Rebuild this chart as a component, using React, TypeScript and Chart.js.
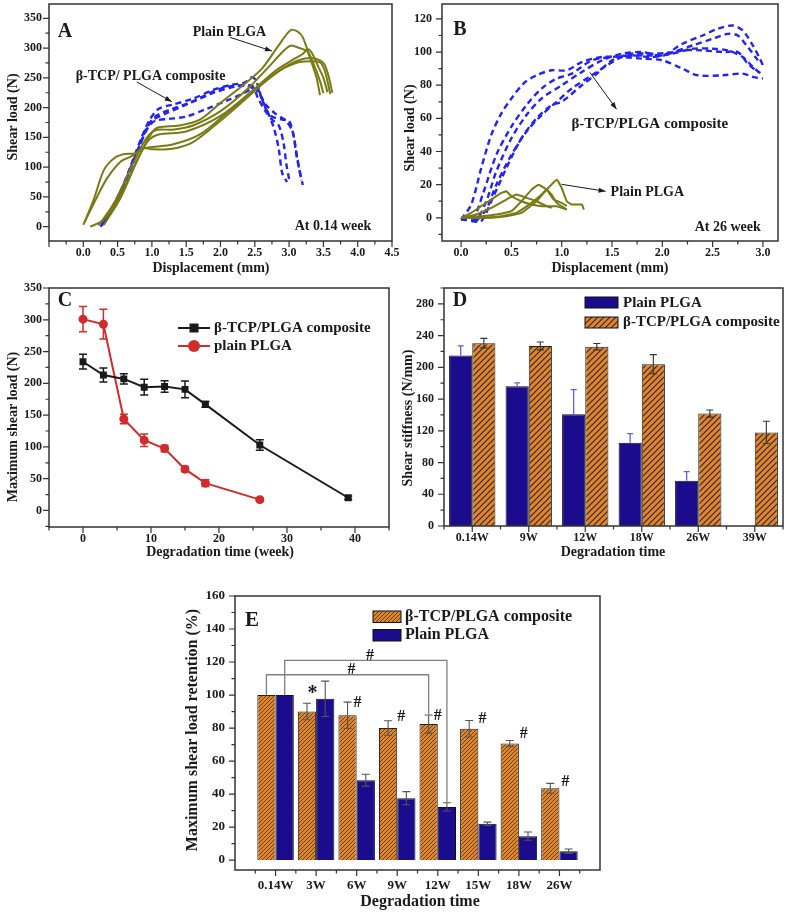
import React, { useEffect, useRef } from 'react';
import { Chart, registerables } from 'chart.js';
Chart.register(...registerables);

const SERIF = '"Liberation Serif", "Times New Roman", Times, serif';
const INK = '#1a1a1a';
const FRAME = '#333333';
const OLIVE = '#7a7a14';
const BLUE_DASH = '#2424ee';
const NAVY = '#1a0c8c';
const ORANGE = '#df862c';
const RED = '#d12b2b';

type Pt = [number, number];

// ---------- Panel A (0.14 week) ----------
const aXTicks = [0, 0.5, 1, 1.5, 2, 2.5, 3, 3.5, 4, 4.5];
const aYTicks = [0, 50, 100, 150, 200, 250, 300, 350];
const aPlain1: Pt[] = [[0.1, 0], [0.3, 12], [0.55, 55], [0.8, 115], [1.0, 158], [1.1, 167], [1.4, 170], [1.7, 180], [2.0, 208], [2.3, 235], [2.6, 265], [2.85, 305], [3.02, 330], [3.12, 328], [3.2, 318], [3.3, 285], [3.4, 250], [3.45, 221]];
const aPlain2: Pt[] = [[0.22, 2], [0.45, 40], [0.7, 100], [0.9, 145], [1.05, 162], [1.3, 163], [1.6, 170], [2.0, 194], [2.4, 232], [2.7, 268], [2.9, 293], [3.02, 304], [3.15, 300], [3.27, 294], [3.35, 275], [3.45, 245], [3.5, 224]];
const aPlain3: Pt[] = [[0.3, 3], [0.55, 50], [0.8, 115], [0.95, 145], [1.1, 155], [1.5, 160], [2.0, 186], [2.5, 232], [2.8, 262], [3.05, 280], [3.2, 290], [3.27, 298], [3.33, 292], [3.42, 270], [3.5, 250], [3.56, 226]];
const aPlain4: Pt[] = [[0.0, 3], [0.15, 45], [0.3, 95], [0.45, 115], [0.6, 122], [0.75, 123], [0.87, 132], [1.0, 130], [1.3, 131], [1.6, 142], [2.0, 178], [2.4, 218], [2.8, 258], [3.1, 275], [3.3, 278], [3.45, 276], [3.52, 262], [3.6, 223]];
const aPlain5: Pt[] = [[0.02, 8], [0.2, 50], [0.35, 82], [0.55, 110], [0.7, 118], [0.87, 131], [1.0, 134], [1.3, 138], [1.7, 155], [2.1, 192], [2.5, 230], [2.9, 265], [3.15, 280], [3.35, 283], [3.5, 275], [3.57, 255], [3.63, 225]];
const aComp1: Pt[] = [[0.25, 0], [0.45, 35], [0.65, 90], [0.85, 150], [0.97, 180], [1.1, 198], [1.3, 205], [1.6, 215], [1.9, 230], [2.15, 238], [2.35, 242], [2.46, 251], [2.52, 245], [2.6, 215], [2.68, 195], [2.78, 165], [2.85, 130], [2.9, 90], [2.97, 75]];
const aComp2: Pt[] = [[0.27, 2], [0.5, 50], [0.72, 105], [0.9, 160], [1.0, 178], [1.2, 190], [1.5, 205], [1.8, 222], [2.0, 232], [2.2, 237], [2.35, 236], [2.48, 232], [2.55, 215], [2.65, 195], [2.75, 180], [2.85, 170], [2.92, 140], [2.96, 105], [3.0, 80]];
const aComp3: Pt[] = [[0.3, 5], [0.55, 60], [0.78, 125], [0.95, 168], [1.05, 178], [1.25, 181], [1.5, 185], [1.8, 198], [2.1, 212], [2.3, 222], [2.48, 232], [2.56, 225], [2.66, 205], [2.8, 190], [2.95, 178], [3.05, 160], [3.1, 125], [3.15, 95], [3.2, 70]];
const aComp4: Pt[] = [[0.28, 3], [0.5, 45], [0.75, 115], [0.92, 165], [1.05, 185], [1.3, 198], [1.6, 210], [1.9, 225], [2.2, 235], [2.4, 238], [2.55, 230], [2.65, 200], [2.75, 185], [2.9, 180], [3.0, 178], [3.07, 150], [3.12, 115], [3.18, 78]];

// ---------- Panel B (26 week) ----------
const bXTicks = [0, 0.5, 1, 1.5, 2, 2.5, 3];
const bYTicks = [0, 20, 40, 60, 80, 100, 120];
const bComp1: Pt[] = [[0, -1], [0.1, 8], [0.2, 30], [0.3, 50], [0.4, 63], [0.5, 72], [0.62, 81], [0.75, 86], [0.9, 89], [1.05, 89], [1.2, 94], [1.4, 97], [1.6, 97], [1.8, 96], [2.0, 95], [2.2, 90], [2.35, 86], [2.6, 86], [2.8, 87], [2.9, 85], [3.0, 84]];
const bComp2: Pt[] = [[0, -1], [0.12, 0], [0.22, 15], [0.35, 38], [0.5, 55], [0.65, 68], [0.8, 78], [0.95, 84], [1.1, 87], [1.3, 95], [1.5, 97], [1.7, 98], [1.9, 97], [2.1, 99], [2.3, 102], [2.5, 102], [2.65, 101], [2.8, 97], [2.9, 91], [3.0, 86]];
const bComp3: Pt[] = [[0, -1], [0.15, -1], [0.25, 10], [0.35, 28], [0.5, 48], [0.65, 62], [0.8, 72], [1.0, 80], [1.2, 88], [1.4, 95], [1.6, 99], [1.8, 100], [2.0, 98], [2.2, 105], [2.4, 110], [2.55, 114], [2.7, 116], [2.8, 113], [2.9, 104], [2.97, 96], [3.0, 92]];
const bComp4: Pt[] = [[0.1, -2], [0.2, -2], [0.3, 10], [0.45, 30], [0.6, 48], [0.75, 60], [0.9, 68], [1.0, 70], [1.2, 80], [1.35, 87], [1.5, 95], [1.7, 99], [1.9, 99], [2.1, 100], [2.3, 104], [2.5, 108], [2.65, 111], [2.75, 110], [2.85, 103], [2.95, 95]];
const bComp5: Pt[] = [[0.15, -2], [0.25, 5], [0.35, 20], [0.5, 38], [0.65, 52], [0.8, 62], [0.95, 70], [1.1, 78], [1.3, 86], [1.45, 92], [1.6, 97], [1.8, 98], [2.0, 98], [2.2, 101], [2.4, 101], [2.6, 100], [2.75, 100], [2.85, 93], [2.95, 88]];
const bPlain1: Pt[] = [[0, 0], [0.1, 3], [0.2, 7], [0.3, 11], [0.4, 15], [0.45, 16], [0.5, 13], [0.6, 10], [0.7, 8], [0.8, 7], [0.95, 7], [1.05, 5]];
const bPlain2: Pt[] = [[0, 0], [0.15, 2], [0.3, 6], [0.45, 11], [0.55, 14], [0.65, 12], [0.75, 10], [0.85, 7], [0.9, 6]];
const bPlain3: Pt[] = [[0, 0], [0.2, 1], [0.35, 2], [0.5, 4], [0.6, 10], [0.7, 17], [0.77, 20], [0.85, 17], [0.92, 11], [1.0, 9], [1.05, 7]];
const bPlain4: Pt[] = [[0.05, 0], [0.2, 0], [0.4, 1], [0.55, 3], [0.7, 9], [0.8, 14], [0.85, 17], [0.9, 14], [0.95, 9], [1.05, 5]];
const bPlain5: Pt[] = [[0.05, 0], [0.25, 0], [0.45, 1], [0.6, 3], [0.75, 10], [0.85, 17], [0.95, 23], [1.0, 18], [1.05, 10], [1.1, 8], [1.2, 8], [1.22, 5]];

// ---------- Panel C ----------
const cXTicks = [0, 10, 20, 30, 40];
const cYTicks = [0, 50, 100, 150, 200, 250, 300, 350];
const cCompWeeks = [0, 3, 6, 9, 12, 15, 18, 26, 39];
const cComp = [234, 213, 207, 194, 195, 190.5, 167, 103, 20];
const cCompErr = [11.6, 11, 8, 12.5, 9, 13, 4.5, 8.4, 2.6];
const cPlainWeeks = [0, 3, 6, 9, 12, 15, 18, 26];
const cPlain = [301, 293, 144, 110.5, 97.5, 65, 43, 17];
const cPlainErr = [19.7, 23.4, 7.4, 10, 5.3, 4, 5.3, 3];

// ---------- Panel D ----------
const dLabels = ['0.14W', '9W', '12W', '18W', '26W', '39W'];
const dYTicks = [0, 40, 80, 120, 160, 200, 240, 280];
const dPlain = [215, 176, 141, 105, 57, null];
const dPlainErr = [12, 4.5, 31, 11.5, 11.6, null];
const dComp = [230.5, 227, 226, 204, 141.7, 118];
const dCompErr = [6, 5, 4, 12, 4.5, 14];

// ---------- Panel E ----------
const eLabels = ['', '0.14W', '3W', '6W', '9W', '12W', '15W', '18W', '26W', ''];
const eYTicks = [0, 20, 40, 60, 80, 100, 120, 140, 160];
const eComp = [null, 100, 90, 87.7, 80, 82.4, 79.6, 70.7, 43.5, null];
const eCompErr = [null, null, 5, 8, 4.4, 5.5, 5, 1.8, 3, null];
const ePlain = [null, 100, 97.7, 48.4, 37.5, 32.2, 22, 14.5, 5.4, null];
const ePlainErr = [null, null, 10.7, 3.6, 4, 2.5, 1, 2.5, 1.3, null];

// ---------- helpers ----------
const font = (size: number) => `bold ${size}px ${SERIF}`;
const range = (a: number, b: number, s: number) => {
  const out: number[] = [];
  for (let v = a; v <= b + 1e-9; v += s) out.push(Math.round(v * 1000) / 1000);
  return out;
};

function hatch(bg: string, line: string, size: number, lw: number): CanvasPattern {
  const c = document.createElement('canvas');
  c.width = size; c.height = size;
  const x = c.getContext('2d')!;
  x.fillStyle = bg; x.fillRect(0, 0, size, size);
  x.strokeStyle = line; x.lineWidth = lw;
  x.beginPath();
  x.moveTo(-1, size + 1); x.lineTo(size + 1, -1);
  x.moveTo(-size / 2 - 1, size / 2 + 1); x.lineTo(size / 2 + 1, -size / 2 - 1);
  x.moveTo(size / 2 - 1, size * 1.5 + 1); x.lineTo(size * 1.5 + 1, size / 2 - 1);
  x.stroke();
  return x.createPattern(c, 'repeat')!;
}

function linAxis(min: number, max: number, ticks: number[], fit: { w?: number; h?: number }, pad: number, size: number, fmt?: (v: number) => string): any {
  const t: any = { font: { family: SERIF, size, weight: 'bold' }, color: INK, padding: pad, autoSkip: false, maxRotation: 0 };
  if (fmt) t.callback = (v: any) => fmt(Number(v));
  return {
    type: 'linear', min, max,
    grid: { display: false, drawTicks: false },
    border: { display: false },
    ticks: t,
    afterBuildTicks: (s: any) => { s.ticks = ticks.map((v) => ({ value: v })); },
    afterFit: (s: any) => {
      if (fit.w != null) s.width = fit.w;
      if (fit.h != null) s.height = fit.h;
      s.paddingLeft = 0; s.paddingRight = 0; s.paddingTop = 0; s.paddingBottom = 0;
    },
  };
}

function catAxis(offset: boolean, h: number, pad: number, size: number): any {
  return {
    type: 'category', offset,
    grid: { display: false, drawTicks: false, offset },
    border: { display: false },
    ticks: { font: { family: SERIF, size, weight: 'bold' }, color: INK, padding: pad, autoSkip: false, maxRotation: 0 },
    afterFit: (s: any) => { s.height = h; s.paddingLeft = 0; s.paddingRight = 0; },
  };
}

interface Txt { t: string; x: number; y: number; size: number; align?: CanvasTextAlign; rot?: number; px?: boolean; color?: string }
interface Decor {
  xMajor: number[]; xMinor: number[]; yMajor: number[]; yMinor: number[];
  errBehind?: boolean;
  texts?: Txt[];
  arrows?: [Pt, Pt][];
  paths?: { pts: Pt[]; color: string; width: number }[];
  legend?: (ctx: CanvasRenderingContext2D) => void;
}

function drawErrors(chart: any) {
  const ctx: CanvasRenderingContext2D = chart.ctx;
  const ys = chart.scales.y;
  ctx.save();
  chart.data.datasets.forEach((ds: any, i: number) => {
    if (!ds.errors) return;
    const meta = chart.getDatasetMeta(i);
    ctx.strokeStyle = ds.errColor || INK;
    ctx.lineWidth = ds.errWidth ?? 1.3;
    const cap = ds.errCap ?? 4;
    meta.data.forEach((el: any, j: number) => {
      const raw = ds.data[j];
      const v = raw == null ? null : typeof raw === 'number' ? raw : raw.y;
      const e = ds.errors[j];
      if (v == null || e == null) return;
      const x = el.x;
      const y1 = ys.getPixelForValue(v + e);
      const y0 = ds.errUp ? ys.getPixelForValue(v) : ys.getPixelForValue(v - e);
      ctx.beginPath();
      ctx.moveTo(x, y0); ctx.lineTo(x, y1);
      ctx.moveTo(x - cap, y1); ctx.lineTo(x + cap, y1);
      if (!ds.errUp) { ctx.moveTo(x - cap, y0); ctx.lineTo(x + cap, y0); }
      ctx.stroke();
    });
  });
  ctx.restore();
}

function decorPlugin(d: Decor) {
  return {
    id: 'decor',
    beforeDatasetsDraw(chart: any) {
      if (d.errBehind) drawErrors(chart);
    },
    afterDatasetsDraw(chart: any) {
      if (!d.errBehind) drawErrors(chart);
      const ctx: CanvasRenderingContext2D = chart.ctx;
      const xs = chart.scales.x, ys = chart.scales.y;
      const { left, right, top, bottom } = chart.chartArea;
      const X = (v: number) => xs.getPixelForValue(v);
      const Y = (v: number) => ys.getPixelForValue(v);
      ctx.save();
      (d.paths || []).forEach((p) => {
        ctx.strokeStyle = p.color; ctx.lineWidth = p.width;
        ctx.beginPath();
        p.pts.forEach(([a, b], k) => (k ? ctx.lineTo(X(a), Y(b)) : ctx.moveTo(X(a), Y(b))));
        ctx.stroke();
      });
      ctx.strokeStyle = FRAME; ctx.lineWidth = 1.5;
      ctx.strokeRect(left, top, right - left, bottom - top);
      ctx.lineWidth = 1.2;
      ctx.beginPath();
      d.xMajor.forEach((v) => { const x = X(v); ctx.moveTo(x, bottom); ctx.lineTo(x, bottom + 6); });
      d.xMinor.forEach((v) => { const x = X(v); ctx.moveTo(x, bottom); ctx.lineTo(x, bottom + 3.5); });
      d.yMajor.forEach((v) => { const y = Y(v); ctx.moveTo(left, y); ctx.lineTo(left - 6, y); });
      d.yMinor.forEach((v) => { const y = Y(v); ctx.moveTo(left, y); ctx.lineTo(left - 3.5, y); });
      ctx.stroke();
      ctx.strokeStyle = INK; ctx.fillStyle = INK; ctx.lineWidth = 1;
      (d.arrows || []).forEach(([p1, p2]) => {
        const x1 = X(p1[0]), y1 = Y(p1[1]), x2 = X(p2[0]), y2 = Y(p2[1]);
        const ang = Math.atan2(y2 - y1, x2 - x1);
        ctx.beginPath(); ctx.moveTo(x1, y1); ctx.lineTo(x2, y2); ctx.stroke();
        ctx.beginPath();
        ctx.moveTo(x2, y2);
        ctx.lineTo(x2 - 7 * Math.cos(ang) + 2.5 * Math.sin(ang), y2 - 7 * Math.sin(ang) - 2.5 * Math.cos(ang));
        ctx.lineTo(x2 - 7 * Math.cos(ang) - 2.5 * Math.sin(ang), y2 - 7 * Math.sin(ang) + 2.5 * Math.cos(ang));
        ctx.closePath(); ctx.fill();
      });
      (d.texts || []).forEach((t) => {
        const x = t.px ? t.x : X(t.x);
        const y = t.px ? t.y : Y(t.y);
        ctx.save();
        ctx.font = font(t.size);
        ctx.fillStyle = t.color || INK;
        ctx.textAlign = t.align || 'center';
        ctx.textBaseline = 'middle';
        ctx.translate(x, y);
        if (t.rot) ctx.rotate(t.rot);
        ctx.fillText(t.t, 0, 0);
        ctx.restore();
      });
      if (d.legend) d.legend(ctx);
      ctx.restore();
    },
  };
}

const baseOpts = (padding: any) => ({
  responsive: false,
  animation: false as const,
  events: [] as any[],
  layout: { padding },
  plugins: { legend: { display: false }, tooltip: { enabled: false } },
});

const toXY = (pts: Pt[]) => pts.map(([x, y]) => ({ x, y }));
const oliveLine = (pts: Pt[], tension = 0.3) => ({ data: toXY(pts), borderColor: OLIVE, borderWidth: 2, pointRadius: 0, tension, fill: false });
const blueDash = (pts: Pt[]) => ({ data: toXY(pts), borderColor: BLUE_DASH, borderWidth: 2.4, borderDash: [6, 4], pointRadius: 0, tension: 0.3, fill: false });
const ROT = -Math.PI / 2;

function buildA(c: HTMLCanvasElement) {
  return new Chart(c, {
    type: 'line',
    data: { datasets: [...[aPlain1, aPlain2, aPlain3, aPlain4, aPlain5].map((p) => oliveLine(p)), ...[aComp1, aComp2, aComp3, aComp4].map(blueDash)] as any },
    options: {
      ...baseOpts({ left: 0, top: 4, right: 11, bottom: 0 }),
      scales: {
        x: linAxis(-0.5, 4.5, aXTicks, { h: 39 }, 5, 12, (v) => v.toFixed(1)),
        y: linAxis(-24, 374, aYTicks, { w: 49 }, 7, 12),
      },
    } as any,
    plugins: [decorPlugin({
      xMajor: range(-0.5, 4.5, 0.5), xMinor: range(-0.25, 4.25, 0.5), yMajor: aYTicks, yMinor: range(-25, 375, 50).filter((v) => v > -24 && v < 374),
      texts: [
        { t: 'A', x: 65, y: 32, size: 20, px: true },
        { t: 'Plain PLGA', x: 2.13, y: 327, size: 14 },
        { t: 'β-TCP/ PLGA composite', x: 0.98, y: 253, size: 14 },
        { t: 'At 0.14 week', x: 3.64, y: 0, size: 14 },
        { t: 'Shear load (N)', x: 13, y: 117, size: 14, px: true, rot: ROT },
        { t: 'Displacement (mm)', x: 211, y: 268, size: 14, px: true },
      ],
      arrows: [[[2.14, 318], [2.75, 295]], [[0.78, 243], [1.29, 210]]],
    })],
  });
}

function buildB(c: HTMLCanvasElement) {
  return new Chart(c, {
    type: 'line',
    data: { datasets: [...[bPlain1, bPlain2, bPlain3, bPlain4, bPlain5].map((p) => oliveLine(p, 0.1)), ...[bComp1, bComp2, bComp3, bComp4, bComp5].map(blueDash)] as any },
    options: {
      ...baseOpts({ left: 0, top: 4, right: 9, bottom: 0 }),
      scales: {
        x: linAxis(-0.19, 3.15, bXTicks, { h: 39 }, 5, 12, (v) => v.toFixed(1)),
        y: linAxis(-14, 129, bYTicks, { w: 47 }, 10, 12),
      },
    } as any,
    plugins: [decorPlugin({
      xMajor: bXTicks, xMinor: range(0.25, 2.75, 0.5), yMajor: bYTicks, yMinor: range(-10, 110, 20),
      texts: [
        { t: 'B', x: 65, y: 30, size: 20, px: true },
        { t: 'β-TCP/PLGA composite', x: 1.875, y: 56.4, size: 15 },
        { t: 'Plain PLGA', x: 1.486, y: 15.2, size: 14, align: 'left' },
        { t: 'At 26 week', x: 2.65, y: -5.7, size: 14 },
        { t: 'Shear load (N)', x: 15, y: 128, size: 14, px: true, rot: ROT },
        { t: 'Displacement (mm)', x: 215, y: 268, size: 14, px: true },
      ],
      arrows: [[[1.28, 87.7], [1.545, 65.5]], [[1.0, 20.2], [1.436, 16]]],
    })],
  });
}

function buildC(c: HTMLCanvasElement) {
  return new Chart(c, {
    type: 'line',
    data: {
      datasets: [
        { data: cCompWeeks.map((x, i) => ({ x, y: cComp[i] })), borderColor: INK, backgroundColor: INK, borderWidth: 2, pointStyle: 'rect', pointRadius: 3.5, pointBackgroundColor: INK, tension: 0, errors: cCompErr, errColor: INK, errWidth: 1.5, errCap: 4 },
        { data: cPlainWeeks.map((x, i) => ({ x, y: cPlain[i] })), borderColor: RED, backgroundColor: RED, borderWidth: 2, pointStyle: 'circle', pointRadius: 3.5, pointBackgroundColor: RED, tension: 0, errors: cPlainErr, errColor: RED, errWidth: 1.5, errCap: 4 },
      ] as any,
    },
    options: {
      ...baseOpts({ left: 0, top: 8, right: 4, bottom: 0 }),
      scales: {
        x: linAxis(-5, 45, cXTicks, { h: 38 }, 5, 12),
        y: linAxis(-26, 350, cYTicks, { w: 49 }, 7, 12),
      },
    } as any,
    plugins: [decorPlugin({
      errBehind: true,
      xMajor: cXTicks, xMinor: [-5, 5, 15, 25, 35, 45], yMajor: cYTicks, yMinor: range(-25, 325, 50),
      texts: [
        { t: 'C', x: 65, y: 21, size: 20, px: true },
        { t: 'β-TCP/PLGA composite', x: 214, y: 48, size: 15, px: true, align: 'left' },
        { t: 'plain PLGA', x: 214, y: 66, size: 15, px: true, align: 'left' },
        { t: 'Maximum shear load (N)', x: 13, y: 147, size: 14, px: true, rot: ROT },
        { t: 'Degradation time (week)', x: 220, y: 272, size: 14, px: true },
      ],
      legend: (ctx) => {
        ctx.lineWidth = 2;
        ctx.strokeStyle = INK; ctx.fillStyle = INK;
        ctx.beginPath(); ctx.moveTo(178, 48); ctx.lineTo(210, 48); ctx.stroke();
        ctx.fillRect(189.5, 43.5, 9, 9);
        ctx.strokeStyle = RED; ctx.fillStyle = RED;
        ctx.beginPath(); ctx.moveTo(178, 66); ctx.lineTo(210, 66); ctx.stroke();
        ctx.beginPath(); ctx.arc(194, 66, 6, 0, Math.PI * 2); ctx.fill();
      },
    })],
  });
}

function buildD(c: HTMLCanvasElement) {
  const pat = hatch(ORANGE, '#3a2810', 6, 1.2);
  return new Chart(c, {
    type: 'bar',
    data: {
      labels: dLabels,
      datasets: [
        { data: dPlain, backgroundColor: NAVY, borderColor: '#111', borderWidth: 1, categoryPercentage: 0.82, barPercentage: 1, errors: dPlainErr, errUp: true, errColor: '#6b5fd6', errWidth: 1.3, errCap: 3 },
        { data: dComp, backgroundColor: pat, borderColor: '#222', borderWidth: 1, categoryPercentage: 0.82, barPercentage: 1, errors: dCompErr, errColor: '#333', errWidth: 1.1, errCap: 3.5 },
      ] as any,
    },
    options: {
      ...baseOpts({ left: 0, top: 8, right: 4, bottom: 0 }),
      scales: {
        x: catAxis(true, 39, 5, 12),
        y: linAxis(0, 300, dYTicks, { w: 49 }, 10, 12),
      },
    } as any,
    plugins: [decorPlugin({
      xMajor: [0, 1, 2, 3, 4, 5], xMinor: [-0.5, 0.5, 1.5, 2.5, 3.5, 4.5, 5.5], yMajor: dYTicks, yMinor: range(20, 300, 40),
      texts: [
        { t: 'D', x: 65, y: 21, size: 20, px: true },
        { t: 'Plain PLGA', x: 228, y: 23, size: 15, px: true, align: 'left' },
        { t: 'β-TCP/PLGA composite', x: 228, y: 42.5, size: 15, px: true, align: 'left' },
        { t: 'Shear stiffness (N/mm)', x: 13, y: 138, size: 14, px: true, rot: ROT },
        { t: 'Degradation time', x: 218, y: 272, size: 14, px: true },
      ],
      legend: (ctx) => {
        ctx.lineWidth = 1; ctx.strokeStyle = '#111';
        ctx.fillStyle = NAVY; ctx.fillRect(190, 17, 33, 11); ctx.strokeRect(190, 17, 33, 11);
        ctx.fillStyle = pat; ctx.fillRect(190, 37, 33, 11); ctx.strokeRect(190, 37, 33, 11);
      },
    })],
  });
}

function buildE(c: HTMLCanvasElement) {
  const pat = hatch(ORANGE, '#5a3410', 4, 0.9);
  return new Chart(c, {
    type: 'bar',
    data: {
      labels: eLabels,
      datasets: [
        { data: eComp, backgroundColor: pat, borderColor: '#222', borderWidth: 1, categoryPercentage: 0.9, barPercentage: 1, errors: eCompErr, errColor: '#555', errWidth: 1.1, errCap: 4 },
        { data: ePlain, backgroundColor: NAVY, borderColor: '#111', borderWidth: 1, categoryPercentage: 0.9, barPercentage: 1, errors: ePlainErr, errColor: '#555', errWidth: 1.1, errCap: 4 },
      ] as any,
    },
    options: {
      ...baseOpts({ left: 0, top: 16, right: 10, bottom: 0 }),
      scales: {
        x: catAxis(false, 45, 8, 13),
        y: linAxis(-6, 160, eYTicks, { w: 65 }, 10, 13),
      },
    } as any,
    plugins: [decorPlugin({
      xMajor: [1, 2, 3, 4, 5, 6, 7, 8], xMinor: range(0.5, 8.5, 1), yMajor: eYTicks, yMinor: range(10, 150, 20),
      paths: [
        { pts: [[0.775, 100], [0.775, 112.3], [4.775, 112.3], [4.775, 88.5]], color: '#808080', width: 1.3 },
        { pts: [[1.225, 100], [1.225, 121], [5.225, 121], [5.225, 35]], color: '#808080', width: 1.3 },
      ],
      texts: [
        { t: 'E', x: 82, y: 41, size: 21, px: true },
        { t: '*', x: 1.91, y: 100.5, size: 20 },
        { t: '#', x: 3.02, y: 95.2, size: 16 },
        { t: '#', x: 4.1, y: 87, size: 16 },
        { t: '#', x: 5.0, y: 87.5, size: 16 },
        { t: '#', x: 6.1, y: 85.7, size: 16 },
        { t: '#', x: 7.12, y: 76.4, size: 16 },
        { t: '#', x: 8.15, y: 47.4, size: 16 },
        { t: '#', x: 2.87, y: 115.3, size: 16 },
        { t: '#', x: 3.33, y: 123.8, size: 16 },
        { t: 'β-TCP/PLGA composite', x: 235, y: 36.5, size: 16, px: true, align: 'left' },
        { t: 'Plain PLGA', x: 235, y: 55, size: 16, px: true, align: 'left' },
        { t: 'Maximum shear load retention (%)', x: 23, y: 150, size: 16, px: true, rot: ROT },
        { t: 'Degradation time', x: 250, y: 322, size: 16, px: true },
      ],
      legend: (ctx) => {
        ctx.lineWidth = 1; ctx.strokeStyle = '#111';
        ctx.fillStyle = pat; ctx.fillRect(203, 31, 28, 11.5); ctx.strokeRect(203, 31, 28, 11.5);
        ctx.fillStyle = NAVY; ctx.fillRect(203, 49.5, 28, 11.5); ctx.strokeRect(203, 49.5, 28, 11.5);
      },
    })],
  });
}

type Box = { left: number; top: number; width: number; height: number };

function ChartCanvas({ box, build }: { box: Box; build: (c: HTMLCanvasElement) => Chart }) {
  const ref = useRef<HTMLCanvasElement | null>(null);
  useEffect(() => {
    if (!ref.current) return;
    const ch = build(ref.current);
    return () => ch.destroy();
  }, [build]);
  return (
    <canvas
      ref={ref}
      width={box.width}
      height={box.height}
      style={{ position: 'absolute', left: box.left, top: box.top, width: box.width, height: box.height }}
    />
  );
}

export default function App() {
  return (
    <div style={{ position: 'fixed', left: 0, top: 0, width: 787, height: 915, background: '#ffffff', overflow: 'hidden' }}>
      <ChartCanvas box={{ left: 395, top: 0, width: 392, height: 280 }} build={buildB} />
      <ChartCanvas box={{ left: 0, top: 0, width: 403, height: 280 }} build={buildA} />
      <ChartCanvas box={{ left: 0, top: 280, width: 395, height: 285 }} build={buildC} />
      <ChartCanvas box={{ left: 395, top: 280, width: 392, height: 285 }} build={buildD} />
      <ChartCanvas box={{ left: 170, top: 580, width: 440, height: 335 }} build={buildE} />
    </div>
  );
}
